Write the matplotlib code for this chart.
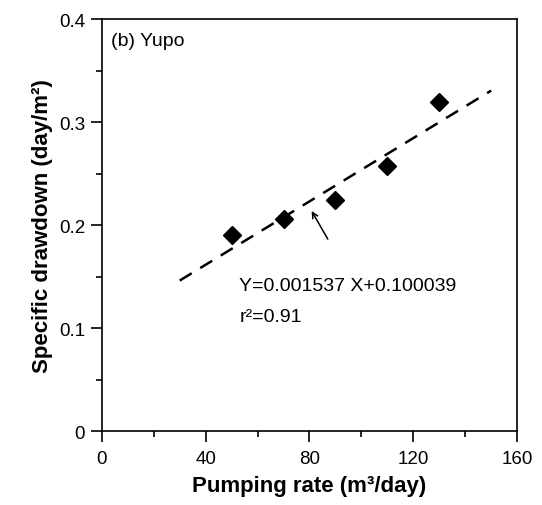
import matplotlib.pyplot as plt
import numpy as np

plt.rcParams['font.family'] = ['Liberation Sans', 'DejaVu Sans']

# measured data
rate = [50, 70, 90, 110, 130]
drawdown = [0.190, 0.206, 0.224, 0.257, 0.320]

# regression line
slope = 0.001537
icpt = 0.100039
fit_x = np.array([30, 150])
fit_y = slope * fit_x + icpt

fig = plt.figure(figsize=(5.42, 5.06), dpi=100)
ax = fig.add_axes([0.188, 0.1462, 0.766, 0.814])

ax.plot(fit_x, fit_y, color='black', lw=1.8, ls=(0, (5.6, 4)))
ax.plot(rate, drawdown, 'D', color='black', ms=9, ls='none')

ax.annotate('', xy=(80.3, 0.216), xytext=(87.6, 0.184),
            arrowprops=dict(arrowstyle='->', color='black', lw=1.1))
ax.text(53, 0.141, 'Y=0.001537 X+0.100039', fontsize=14, va='center')
ax.text(53, 0.111, 'r²=0.91', fontsize=14, va='center')
ax.text(3.7, 0.379, '(b) Yupo', fontsize=14, va='center')

ax.set_xlim(0, 160)
ax.set_ylim(0, 0.4)
ax.set_xticks([0, 40, 80, 120, 160])
ax.set_xticks([20, 60, 100, 140], minor=True)
ax.set_yticks([0, 0.1, 0.2, 0.3, 0.4])
ax.set_yticklabels(['0', '0.1', '0.2', '0.3', '0.4'])
ax.set_yticks([0.05, 0.15, 0.25, 0.35], minor=True)
ax.tick_params(which='major', direction='out', length=8, width=1.2, labelsize=13.5)
ax.tick_params(axis='x', which='major', pad=5.5)
ax.tick_params(axis='y', which='major', pad=4)
ax.tick_params(which='minor', direction='out', length=4, width=1.2)
for s in ax.spines.values():
    s.set_linewidth(1.2)

ax.set_xlabel('Pumping rate (m³/day)', fontsize=16, fontweight='bold', labelpad=6)
ax.set_ylabel('Specific drawdown (day/m²)', fontsize=16, fontweight='bold', labelpad=4)

fig.savefig('out.png', dpi=100)
